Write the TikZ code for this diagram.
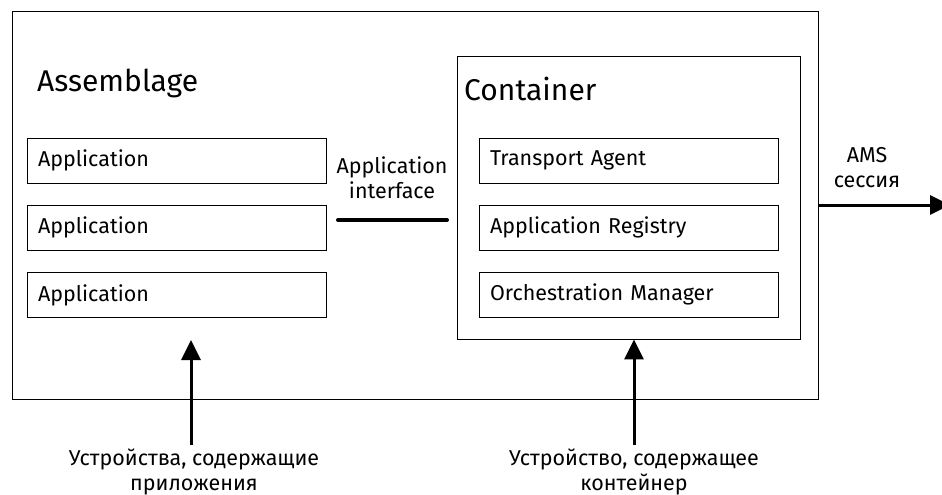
\documentclass[tikz,border=0pt]{standalone}
\usepackage{fontspec}
\setmainfont{Fira Sans}
\usetikzlibrary{arrows.meta}

\tikzset{
  part/.style={draw,line width=0.8pt,minimum height=45pt,text width=277pt,
    inner xsep=11pt,align=left,font=\fontsize{21.5}{24}\selectfont},
  frame/.style={draw,line width=0.8pt,inner sep=0pt},
  title/.style={anchor=base west,inner sep=0pt,font=\fontsize{30}{34}\selectfont},
  lbl/.style={align=center,inner sep=0pt,font=\fontsize{21.5}{25}\selectfont},
  arr/.style={line width=3pt,-{Triangle[length=20pt,width=19pt]}}
}

\begin{document}
\begin{tikzpicture}[x=1pt,y=-1pt]
        \useasboundingbox (0,0) rectangle (942,495);

        % frames
        \node[frame,minimum width=806pt,minimum height=388pt] (outer) at (415,205) {};
        \node[frame,minimum width=343pt,minimum height=283pt] (cont)  at (628.5,197.5) {};
        \node[title] (asm)   at (37,92)  {Assemblage};
        \node[title] (ctitle) at (464,100) {Container};

        \begin{scope}[every node/.style={part}]
          \node (app1) at (176.5,160.5) {Application};
          \node (app2) at (176.5,227.5) {Application};
          \node (app3) at (176.5,295)   {Application};
          \node (ta)   at (628.5,160.5) {Transport Agent};
          \node (reg)  at (628.5,227.5) {Application Registry};
          \node (om)   at (628.5,294.5) {Orchestration Manager};
        \end{scope}

        \begin{scope}[every node/.style={lbl}]
          \node (iface)   at (392,178) {Application\\interface};
          \node (ams)     at (867,168) {AMS\\сессия};
          \node (devapp)  at (194,472) {Устройства, содержащие\\приложения};
          \node (devcont) at (634,472) {Устройство, содержащее\\контейнер};
        \end{scope}

        \coordinate (ifl) at (338,220);
        \coordinate (ifr) at (447,220);
        \coordinate (amsend) at (950,205);
        \coordinate (apptip) at (191,340);

        \draw[line width=4pt,line cap=round] (ifl) -- (ifr);
        \draw[arr] (outer.east |- amsend) -- (amsend);
        \draw[arr] (devapp.north -| apptip) ++(0,-4) -- (apptip);
        \draw[arr] (devcont.north) ++(0,-4) -- (devcont.north |- cont.south);

      \end{tikzpicture}
\end{document}
